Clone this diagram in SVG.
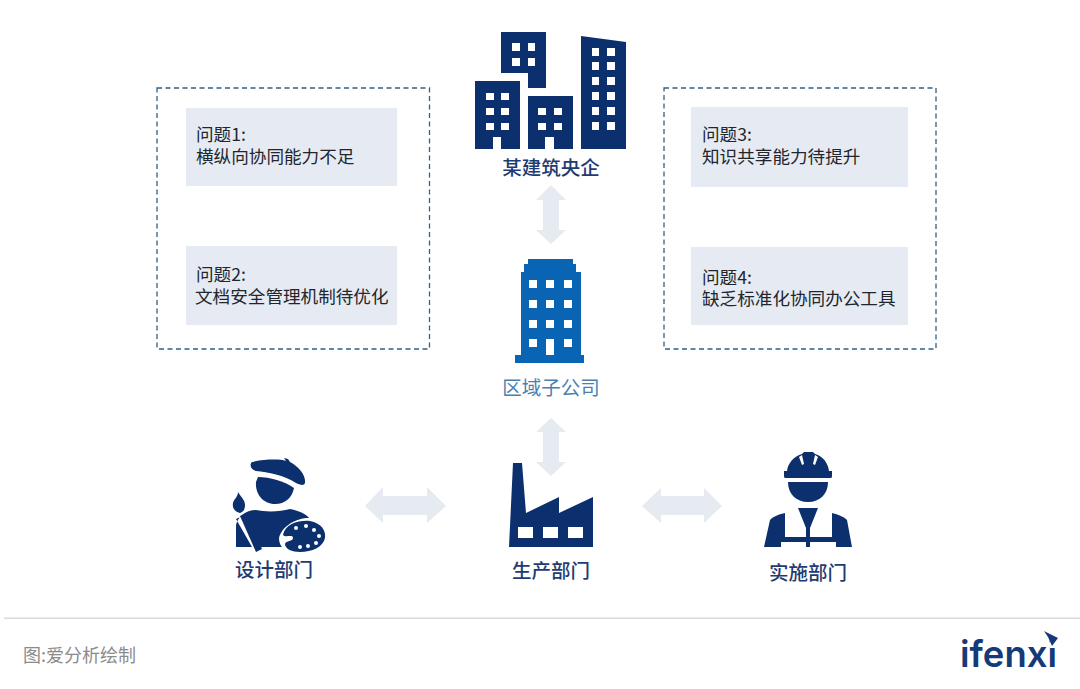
<svg xmlns="http://www.w3.org/2000/svg" width="1080" height="689" viewBox="0 0 1080 689">
<style>
text{font-family:"Noto Sans CJK SC","Noto Sans",sans-serif}
.navy{fill:#0c2f6e}
.blue{fill:#0a64b4}
.w{fill:#fff}
.dash{fill:none;stroke:#2f6088;stroke-width:1.3;stroke-dasharray:5 3.5}
.card{fill:#e6ebf3}
.arrow{fill:#e6eaf1}
.q{font-size:17.6px;fill:#22262c}
.lab{font-size:19.5px;font-weight:500;fill:#1f3c72;text-anchor:middle}
</style>
<rect width="1080" height="689" fill="#fff"/>
<g id="connectors">
<path class="arrow" d="M551 185L566 200H559V230H566L551 244L536 230H543V200H536Z"/>
<path class="arrow" d="M551 418L566 432H559V462H566L551 476L536 462H543V432H536Z"/>
<path class="arrow" d="M365 506L383 487V496H427V487L446 506L427 523V515H383V523Z"/>
<path class="arrow" d="M642 506L661 488V496H704V488L722 506L704 523V515H661V523Z"/>
</g>
<g id="problems-left">
<rect class="dash" x="157" y="88" width="272.500" height="261"/>
<g id="q1"><rect class="card" x="186" y="108" width="211" height="78"/><text class="q"><tspan x="196" y="141">问题1:</tspan><tspan x="196" y="163">横纵向协同能力不足</tspan></text></g>
<g id="q2"><rect class="card" x="186" y="246" width="211" height="79"/><text class="q"><tspan x="196" y="281">问题2:</tspan><tspan x="195" y="303">文档安全管理机制待优化</tspan></text></g>
</g>
<g id="problems-right">
<rect class="dash" x="664" y="88" width="272" height="261"/>
<g id="q3"><rect class="card" x="691" y="107" width="217" height="80"/><text class="q"><tspan x="702" y="141">问题3:</tspan><tspan x="702" y="163">知识共享能力待提升</tspan></text></g>
<g id="q4"><rect class="card" x="691" y="247" width="217" height="78"/><text class="q"><tspan x="702" y="284">问题4:</tspan><tspan x="702" y="305">缺乏标准化协同办公工具</tspan></text></g>
</g>
<g id="hq">
<path class="navy" d="M501 32H546V88H528V73H501Z"/>
<path class="w" d="M512 43h8v8h-8zM528 43h7v8h-7zM512 58h8v8h-8zM528 58h7v8h-7z"/>
<path class="navy" d="M475 81H520V149H501V137H493V149H475Z"/>
<path class="w" d="M486 93h8v7h-8zM501 93h8v7h-8zM486 108h8v7h-8zM501 108h8v7h-8zM486 123h8v7h-8zM501 123h8v7h-8z"/>
<path class="navy" d="M528 96H573V149H554V137H545V149H528Z"/>
<path class="w" d="M538 108h8v7h-8zM554 108h8v7h-8zM538 123h8v7h-8zM554 123h8v7h-8z"/>
<path class="navy" d="M581 36L626 42V149H581Z"/>
<path class="w" d="M592 48h7v8h-7zM607 48h8v8h-8zM592 62h7v8h-7zM607 62h8v8h-8zM592 77h7v8h-7zM607 77h8v8h-8zM592 92h7v8h-7zM607 92h8v8h-8zM592 107h7v8h-7zM607 107h8v8h-8zM592 122h7v8h-7zM607 122h8v8h-8z"/>
<text class="lab" x="551" y="175">某建筑央企</text>
</g>
<g id="regional">
<path class="blue" d="M528 259H573V264H576V272H581V355H584V363H515V355H521V272H524V264H528Z"/>
<path class="w" d="M529 280h8v8h-8zM546 280h8v8h-8zM564 280h8v8h-8zM529 300h8v8h-8zM546 300h8v8h-8zM564 300h8v8h-8zM529 320h8v8h-8zM546 320h8v8h-8zM564 320h8v8h-8zM529 339h8v8h-8zM546 339h8v16h-8zM564 339h8v8h-8z"/>
<text class="lab" x="551" y="395" style="fill:#4a7fb3;font-weight:400">区域子公司</text>
</g>
<g id="design">
<path class="navy" d="M252 462C265 459 280 459 286 461L284 458L288 459L290 462C299 467 306 475 305 483C304 486 300 485 296 483C284 475 268 472 256 471C251 470 249 465 252 462Z"/>
<path class="navy" d="M258 477C270 477 284 481 294 488C292 498 285 504 275 504C263 504 255 494 256 482Z"/>
<path class="navy" d="M236 547V525C238 517 245 510 256 510C265 512 280 512 290 509C300 511 306 514 309 518C296 518 282 526 279 538C279 541 280 545 282 547H259L245 515L236 519L252 547Z"/>
<path class="navy" d="M238 492C241 497 245 500 245 505C245 510 243 512 240 513C235 512 232 508 233 503C234 499 238 497 238 492Z"/>
<path class="navy" d="M240 516L247 513L262 549L256 552Z"/>
<path class="navy" d="M283 535C285 524 299 520 310 521C321 523 326 530 325 538C323 547 312 552 300 552C292 552 285 549 285 544C286 540 293 542 293 538C293 534 285 538 283 535Z"/>
<g class="w"><circle cx="296" cy="528" r="2"/><circle cx="306" cy="526" r="2"/><circle cx="314" cy="530" r="2"/><circle cx="319" cy="536" r="2"/><circle cx="316" cy="543" r="2"/><circle cx="308" cy="546" r="2"/><circle cx="300" cy="547" r="2"/></g>
<text class="lab" x="274" y="577">设计部门</text>
</g>
<g id="production">
<path class="navy" d="M513 463H522L526 513L559 497V513L593 497V547H509Z"/>
<path class="w" d="M518 527h15v11h-15zM543 527h15v11h-15zM568 527h15v11h-15z"/>
<text class="lab" x="551" y="578">生产部门</text>
</g>
<g id="construction">
<path class="navy" d="M787 471C788 463 794 456 802 454L804 452H813L815 454C823 456 828 463 829 471H832V476C832 478 831 478 830 478H786C785 478 784 478 784 476V471Z"/>
<path class="w" d="M802 455L804 464L802 465L799 457ZM815 455L813 464L815 465L818 457Z"/>
<path class="navy" d="M788 482H828C828 494 820 502 808 502C796 502 788 494 788 482Z"/>
<path class="navy" d="M798 508H818L810 528V547H806V528Z"/>
<path class="navy" d="M764 547L770 520C772 517 780 514 785 513V537H806V542H781V547Z"/>
<path class="navy" d="M852 547L847 520C845 517 836 514 832 513V537H810V542H836V547Z"/>
<text class="lab" x="808" y="580">实施部门</text>
</g>
<g id="footer">
<rect x="4" y="617.500" width="1076" height="1.500" fill="#d9d9d9"/>
<text x="23" y="662" font-size="18" fill="#8b8b8b">图:爱分析绘制</text>
<text x="960" y="667" font-size="37" font-weight="600" textLength="97" lengthAdjust="spacingAndGlyphs" fill="#153a78" style="font-family:Inter,sans-serif">ifenxi</text>
<rect x="1050" y="640" width="9" height="8" fill="#fff"/>
<path d="M1044 631L1058 638L1052 646L1048 637Z" fill="#153a78"/>
</g>
</svg>
